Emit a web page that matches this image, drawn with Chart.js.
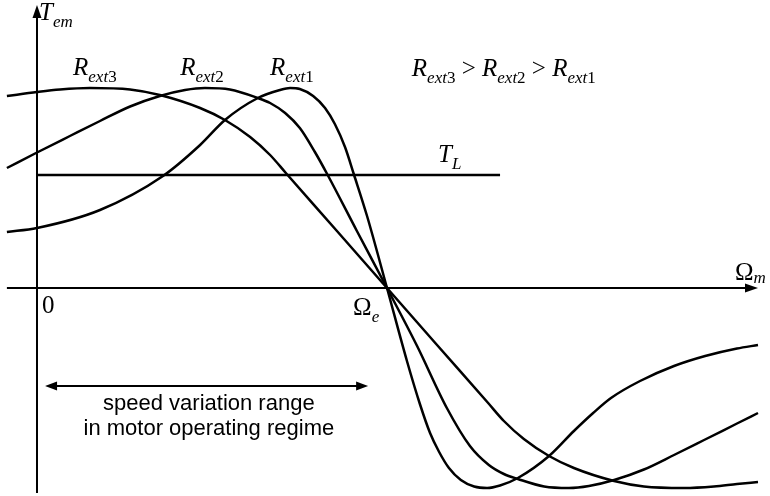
<!DOCTYPE html>
<html>
<head>
<meta charset="utf-8">
<script src="https://cdn.jsdelivr.net/npm/chart.js@4.4.1/dist/chart.umd.min.js"></script>
<style>
  html, body { margin: 0; padding: 0; background: #fff; }
  #wrap { width: 770px; height: 496px; position: relative; }
</style>
</head>
<body>
<div id="wrap"><canvas id="chart"></canvas></div>
<script>
// Torque–speed characteristics of a wound-rotor induction machine
// speed in % of synchronous speed Ωe, torque in % of breakdown torque

const speedExt1 = [-8.6, 0, 18, 36, 46.6, 53.7, 63.1, 69.4, 72.3, 75.1, 78.9, 82.3, 85.1, 88, 90.6, 94.3, 100,
                   105.7, 109.4, 112.3, 114.9, 117.7, 121.1, 124.9, 128.6, 132.3, 137.4, 146.3, 153.4, 158.9,
                   164, 172.3, 182, 190.9, 200, 206];
const torqueExt1 = [28, 30, 39, 56, 71.5, 84, 95, 99, 100, 99.5, 96, 90, 82, 70.5, 56.5, 36, 0,
                    -36.5, -58, -72.5, -82, -90, -96, -99.25, -100, -98.75, -95, -84, -71.5, -62.5,
                    -55, -46.5, -39, -34, -30.25, -28.5];

const speedExt2 = [-8.6, 0, 9.4, 18, 26.6, 35.1, 42.3, 48, 55.1, 63.1, 66.6, 70.9, 75.1, 79.4, 82.9, 91.4, 100,
                   108.6, 117.1, 123.7, 129.1, 133.4, 137.4, 144.9, 152, 157.7, 164.9, 173.4, 182, 190.6, 200, 206];
const torqueExt2 = [60, 67.75, 76, 83.5, 90.75, 96, 99, 100, 99.25, 95, 92.5, 87.5, 80, 68, 57, 28.5, 0,
                    -29, -60, -79, -88.5, -93, -95.5, -99.25, -100, -99, -96, -90.75, -83.5, -76, -67.75, -62.5];

const speedExt3 = [-8.6, 0, 6.6, 15.1, 26.6, 35.1, 46.6, 53.7, 60.9, 66.6, 71.1, 85.7, 100,
                   114.3, 128.9, 133.4, 139.1, 146.3, 153.4, 164.9, 173.4, 184.9, 193.4, 200, 206];
const torqueExt3 = [96, 98, 99.25, 100, 99.25, 96.5, 90, 84, 75.5, 66.5, 57.5, 28.5, 0,
                    -28.5, -57.5, -66.5, -75.5, -84, -90, -96.5, -99.25, -100, -99.25, -98, -97];

// constant load torque T_L and the speed span it is drawn over
const loadTorque = 56.5;
const loadSpeed = [0, 132.3];

// speed variation range in motor operating regime (arrow ends, level)
const rangeSpeed = [2.3, 94.6];
const rangeLevel = -49;

// axis extents
const speedAxis = [-8.6, 206];
const torqueAxis = [-102.5, 141.5];

const pairs = (xs, ys) => xs.map((v, i) => ({ x: v, y: ys[i] }));

const SERIF = '"Liberation Serif", "Times New Roman", serif';
const SANS = '"Liberation Sans", Arial, sans-serif';
const MAIN = 25, SUB = 17;

function drawRuns(ctx, x, y, parts) {
  let cx = x;
  for (const p of parts) {
    ctx.font = p.f;
    ctx.fillText(p.t, cx, y + (p.dy || 0));
    cx += ctx.measureText(p.t).width;
  }
}
const it = (t, dy) => ({ t, f: `italic ${dy ? SUB : MAIN}px ${SERIF}`, dy });
const up = (t, dy) => ({ t, f: `${dy ? SUB : MAIN}px ${SERIF}`, dy });
const rLabel = n => [it('R'), it('ext', 7), up(n, 7)];

function arrowHead(ctx, tx, ty, ang, len, half) {
  ctx.save();
  ctx.translate(tx, ty);
  ctx.rotate(ang);
  ctx.beginPath();
  ctx.moveTo(0, 0);
  ctx.lineTo(-len, -half);
  ctx.lineTo(-len, half);
  ctx.closePath();
  ctx.fill();
  ctx.restore();
}

const decorations = {
  id: 'decorations',
  afterDatasetsDraw(chart) {
    const { ctx, scales: { x, y } } = chart;
    const X = v => x.getPixelForValue(v);
    const Y = v => y.getPixelForValue(v);
    ctx.save();
    ctx.strokeStyle = '#000';
    ctx.fillStyle = '#000';
    ctx.lineCap = 'butt';

    // speed axis
    ctx.lineWidth = 2;
    ctx.beginPath();
    ctx.moveTo(X(speedAxis[0]), Y(0));
    ctx.lineTo(X(speedAxis[1]) - 8, Y(0));
    ctx.stroke();
    arrowHead(ctx, X(speedAxis[1]), Y(0), 0, 13, 4.5);

    // torque axis
    ctx.beginPath();
    ctx.moveTo(X(0), Y(torqueAxis[0]));
    ctx.lineTo(X(0), Y(torqueAxis[1]) + 8);
    ctx.stroke();
    arrowHead(ctx, X(0), Y(torqueAxis[1]), -Math.PI / 2, 13, 4.5);

    // double arrow for the motor speed range
    const ay = Y(rangeLevel), a0 = X(rangeSpeed[0]), a1 = X(rangeSpeed[1]);
    ctx.beginPath();
    ctx.moveTo(a0 + 8, ay);
    ctx.lineTo(a1 - 8, ay);
    ctx.stroke();
    arrowHead(ctx, a1, ay, 0, 12, 4.5);
    arrowHead(ctx, a0, ay, Math.PI, 12, 4.5);

    // labels
    ctx.textBaseline = 'alphabetic';
    ctx.textAlign = 'left';
    drawRuns(ctx, X(0.6), Y(134), [it('T'), it('em', 7)]);
    drawRuns(ctx, X(10.3), Y(106.5), rLabel('3'));
    drawRuns(ctx, X(40.9), Y(106.5), rLabel('2'));
    drawRuns(ctx, X(66.6), Y(106.5), rLabel('1'));
    drawRuns(ctx, X(107.1), Y(106),
      [...rLabel('3'), up(' > '), ...rLabel('2'), up(' > '), ...rLabel('1')]);
    drawRuns(ctx, X(114.6), Y(63), [it('T'), it('L', 7)]);
    drawRuns(ctx, X(1.4), Y(-12.5), [up('0')]);
    drawRuns(ctx, X(90.3), Y(-13.5), [up('Ω'), it('e', 7)]);
    drawRuns(ctx, X(199.4), Y(4), [up('Ω'), it('m', 3)]);

    ctx.font = `22px ${SANS}`;
    ctx.textAlign = 'center';
    ctx.fillText('speed variation range', X(49.1), Y(-61));
    ctx.fillText('in motor operating regime', X(49.1), Y(-73.5));
    ctx.restore();
  }
};

const curve = (xs, ys) => ({
  data: pairs(xs, ys),
  borderColor: '#000',
  borderWidth: 2.5,
  pointRadius: 0,
  cubicInterpolationMode: 'monotone',
  fill: false
});

new Chart(document.getElementById('chart'), {
  type: 'line',
  data: {
    datasets: [
      { label: 'Rext1', ...curve(speedExt1, torqueExt1) },
      { label: 'Rext2', ...curve(speedExt2, torqueExt2) },
      { label: 'Rext3', ...curve(speedExt3, torqueExt3) },
      {
        label: 'TL',
        data: pairs(loadSpeed, [loadTorque, loadTorque]),
        borderColor: '#000',
        borderWidth: 2.5,
        pointRadius: 0,
        fill: false
      }
    ]
  },
  options: {
    responsive: true,
    maintainAspectRatio: false,
    animation: false,
    layout: { padding: 0, autoPadding: false },
    plugins: { legend: { display: false }, tooltip: { enabled: false } },
    scales: {
      x: { type: 'linear', min: -10.571, max: 209.43, display: false },
      y: { type: 'linear', min: -104, max: 144, display: false }
    }
  },
  plugins: [decorations]
});
</script>
</body>
</html>
